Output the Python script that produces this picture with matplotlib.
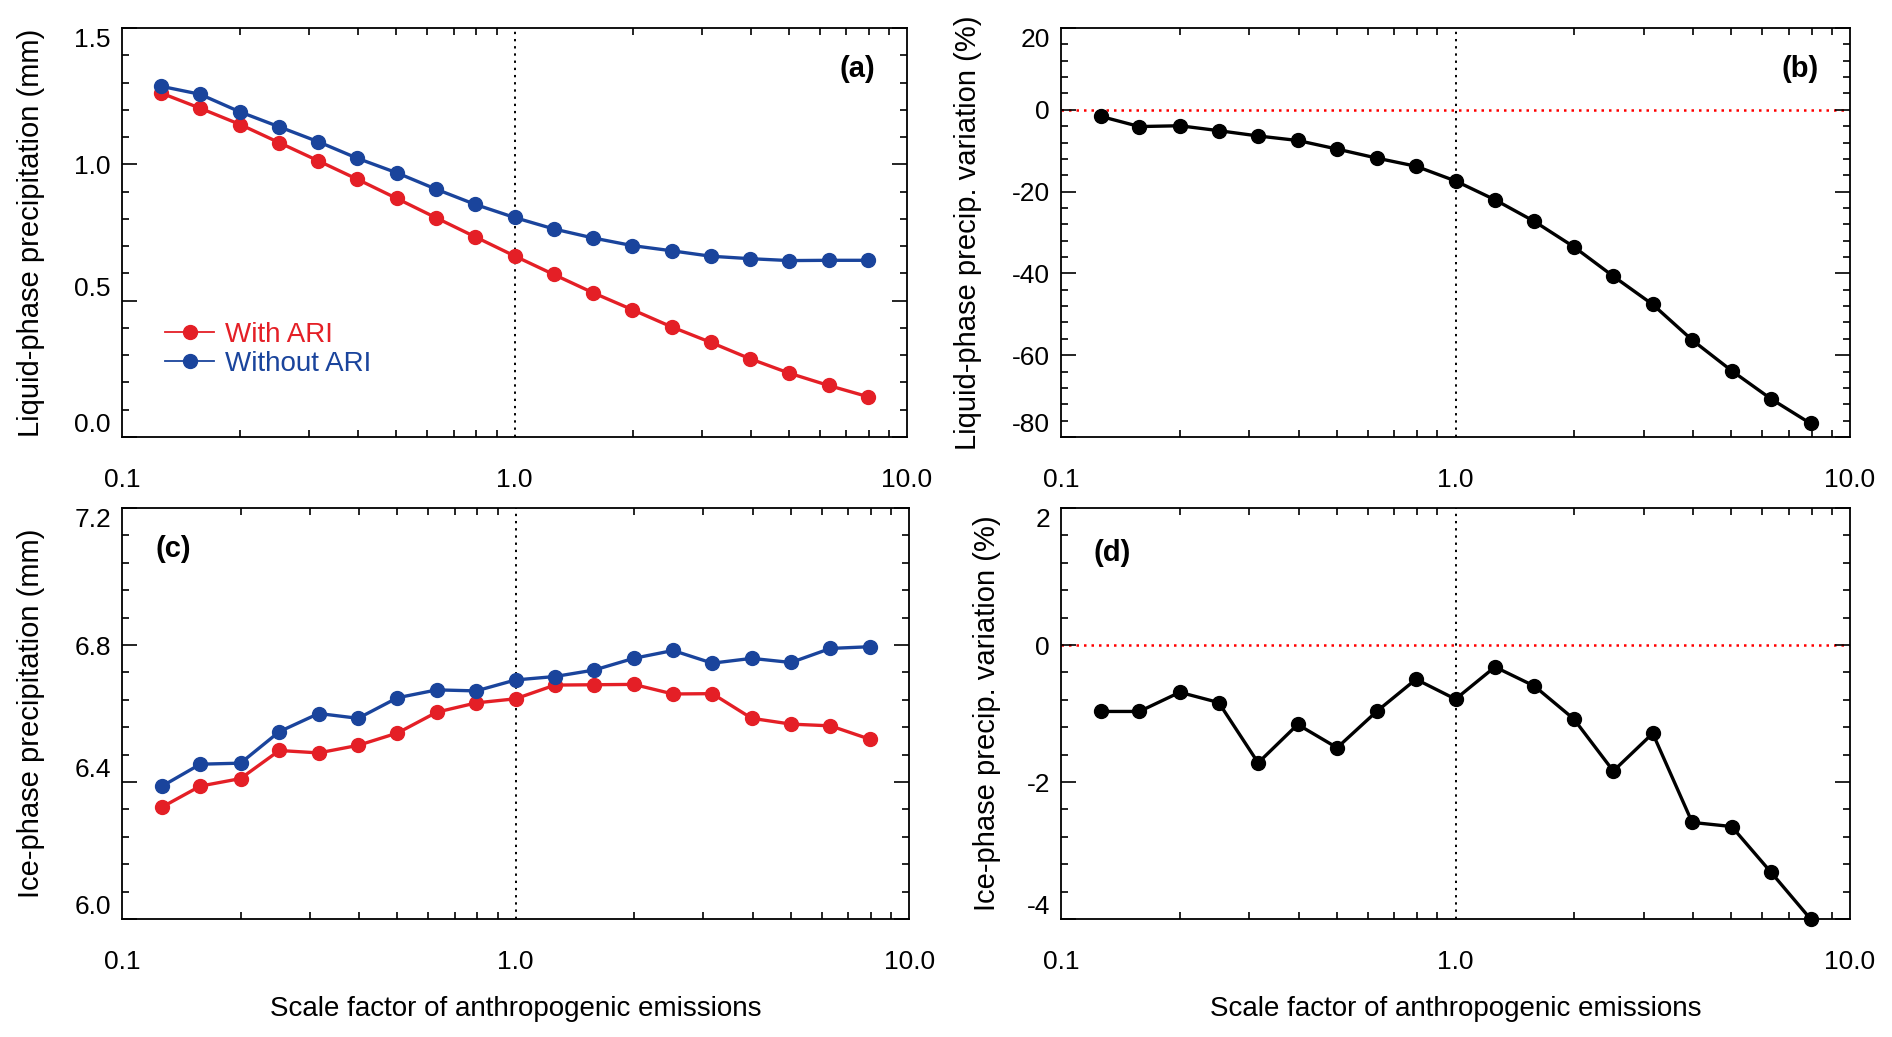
import numpy as np
import matplotlib
matplotlib.use('Agg')
import matplotlib.pyplot as plt
from matplotlib.ticker import FixedLocator, MultipleLocator, NullFormatter

# ========== DATA ==========

scale_factor = [0.126, 0.158, 0.2, 0.251, 0.316, 0.398, 0.501, 0.631, 0.794, 1.0,
                1.259, 1.585, 1.995, 2.512, 3.162, 3.981, 5.012, 6.31, 7.943]

liq_with_ari = [1.261, 1.206, 1.146, 1.080, 1.013, 0.945, 0.875, 0.804, 0.734, 0.664,
                0.596, 0.529, 0.467, 0.404, 0.347, 0.287, 0.234, 0.189, 0.148]
liq_without_ari = [1.286, 1.257, 1.192, 1.138, 1.083, 1.022, 0.969, 0.909, 0.853, 0.805,
                   0.763, 0.730, 0.702, 0.683, 0.663, 0.654, 0.647, 0.648, 0.648]
liq_variation = [-1.6, -4.1, -3.9, -5.1, -6.4, -7.5, -9.6, -11.8, -13.8, -17.4,
                 -22.0, -27.3, -33.5, -40.7, -47.6, -56.3, -63.8, -70.7, -76.7]

ice_with_ari = [6.326, 6.388, 6.410, 6.492, 6.485, 6.507, 6.543, 6.604, 6.631, 6.643,
                6.683, 6.684, 6.685, 6.657, 6.658, 6.586, 6.569, 6.564, 6.525]
ice_without_ari = [6.387, 6.452, 6.455, 6.547, 6.600, 6.586, 6.646, 6.669, 6.666, 6.698,
                   6.708, 6.727, 6.761, 6.784, 6.747, 6.761, 6.749, 6.790, 6.795]
ice_variation = [-0.97, -0.97, -0.69, -0.84, -1.72, -1.16, -1.50, -0.97, -0.50, -0.79,
                 -0.32, -0.60, -1.08, -1.84, -1.29, -2.59, -2.65, -3.32, -4.0]

x_ticks = [0.1, 1.0, 10.0]
x_tick_labels = ['0.1', '1.0', '10.0']

RED = '#e41f26'
BLUE = '#1a449c'

plt.rcParams['font.family'] = ['Liberation Sans', 'DejaVu Sans']
plt.rcParams['axes.unicode_minus'] = False

fig = plt.figure(figsize=(18.92, 10.37), dpi=100)

ax_a = fig.add_axes([0.0645, 0.5786, 0.4149, 0.3944])
ax_b = fig.add_axes([0.5608, 0.5786, 0.4170, 0.3944])
ax_c = fig.add_axes([0.0645, 0.1138, 0.4160, 0.3963])
ax_d = fig.add_axes([0.5608, 0.1138, 0.4170, 0.3963])

# ========== HELPERS ==========

def style_axis(ax, ylim, ymajor, yminor, ylabel, ylabel_x, show_xlabel):
    ax.set_xscale('log')
    ax.set_xlim(0.1, 10.0)
    ax.set_ylim(*ylim)
    ax.xaxis.set_major_locator(FixedLocator(x_ticks))
    ax.set_xticklabels(x_tick_labels)
    ax.xaxis.set_minor_locator(FixedLocator([m * d for d in (0.1, 1.0) for m in range(2, 10)]))
    ax.xaxis.set_minor_formatter(NullFormatter())
    ax.yaxis.set_major_locator(MultipleLocator(ymajor))
    ax.yaxis.set_minor_locator(MultipleLocator(yminor))
    ax.tick_params(which='both', direction='in', top=True, right=True, width=1.2)
    ax.tick_params(which='major', length=11)
    ax.tick_params(which='minor', length=5)
    ax.tick_params(axis='x', which='both', labelsize=19, pad=22)
    ax.tick_params(axis='y', which='both', labelsize=19, pad=8)
    ax.tick_params(axis='x', which='major', length=0)
    for sp in ax.spines.values():
        sp.set_linewidth(1.3)
    ax.set_ylabel(ylabel, fontsize=21)
    ax.yaxis.set_label_coords(ylabel_x, 0.5)
    if show_xlabel:
        ax.set_xlabel('Scale factor of anthropogenic emissions', fontsize=20, labelpad=16)
    ax.axvline(1.0, color='black', linestyle=(0, (1.2, 2.5)), linewidth=1.4, zorder=1)
    # IDL-like placement of end labels on the y axis
    ticks = ax.yaxis.get_major_ticks()
    locs = ax.yaxis.get_majorticklocs()
    for t, loc in zip(ticks, locs):
        if np.isclose(loc, ylim[0]):
            t.label1.set_verticalalignment('bottom')
        elif np.isclose(loc, ylim[1]):
            t.label1.set_verticalalignment('top')

line_kw = dict(marker='o', markersize=10, linewidth=2.4, zorder=3)

# (a)
ax_a.plot(scale_factor, liq_with_ari, color=RED, label='With ARI', **line_kw)
ax_a.plot(scale_factor, liq_without_ari, color=BLUE, label='Without ARI', **line_kw)
style_axis(ax_a, (0.0, 1.5), 0.5, 0.1, 'Liquid-phase precipitation (mm)', -0.098, False)
ax_a.set_yticks([0.0, 0.5, 1.0, 1.5])
ax_a.set_yticklabels(['0.0', '0.5', '1.0', '1.5'])
ax_a.yaxis.get_major_ticks()[0].label1.set_verticalalignment('bottom')
ax_a.yaxis.get_major_ticks()[-1].label1.set_verticalalignment('top')
leg = ax_a.legend(loc='center left', bbox_to_anchor=(0.055, 0.214), frameon=False,
                  fontsize=20, handlelength=1.75, handletextpad=0.4, labelspacing=0.1,
                  borderpad=0, borderaxespad=0, labelcolor='linecolor')
for ln in leg.get_lines():
    ln.set_linewidth(1.3)
ax_a.text(0.96, 0.9, '(a)', transform=ax_a.transAxes, ha='right', va='center',
          fontsize=21, fontweight='bold')

# (b)
ax_b.axhline(0, color='red', linestyle=(0, (1, 2)), linewidth=1.8, zorder=1)
ax_b.plot(scale_factor, liq_variation, color='black', **line_kw)
style_axis(ax_b, (-80, 20), 20, 4, 'Liquid-phase precip. variation (%)', -0.100, False)
ax_b.text(0.961, 0.9, '(b)', transform=ax_b.transAxes, ha='right', va='center',
          fontsize=21, fontweight='bold')

# (c)
ax_c.plot(scale_factor, ice_with_ari, color=RED, **line_kw)
ax_c.plot(scale_factor, ice_without_ari, color=BLUE, **line_kw)
style_axis(ax_c, (6.0, 7.2), 0.4, 0.08, 'Ice-phase precipitation (mm)', -0.098, True)
ax_c.set_yticks([6.0, 6.4, 6.8, 7.2])
ax_c.set_yticklabels(['6.0', '6.4', '6.8', '7.2'])
ax_c.yaxis.get_major_ticks()[0].label1.set_verticalalignment('bottom')
ax_c.yaxis.get_major_ticks()[-1].label1.set_verticalalignment('top')
ax_c.text(0.043, 0.9, '(c)', transform=ax_c.transAxes, ha='left', va='center',
          fontsize=21, fontweight='bold')

# (d)
ax_d.axhline(0, color='red', linestyle=(0, (1, 2)), linewidth=1.8, zorder=1)
ax_d.plot(scale_factor, ice_variation, color='black', clip_on=False, **line_kw)
style_axis(ax_d, (-4, 2), 2, 0.4, 'Ice-phase precip. variation (%)', -0.076, True)
ax_d.text(0.041, 0.89, '(d)', transform=ax_d.transAxes, ha='left', va='center',
          fontsize=21, fontweight='bold')

fig.savefig('out.png', dpi=100)
plt.close(fig)
